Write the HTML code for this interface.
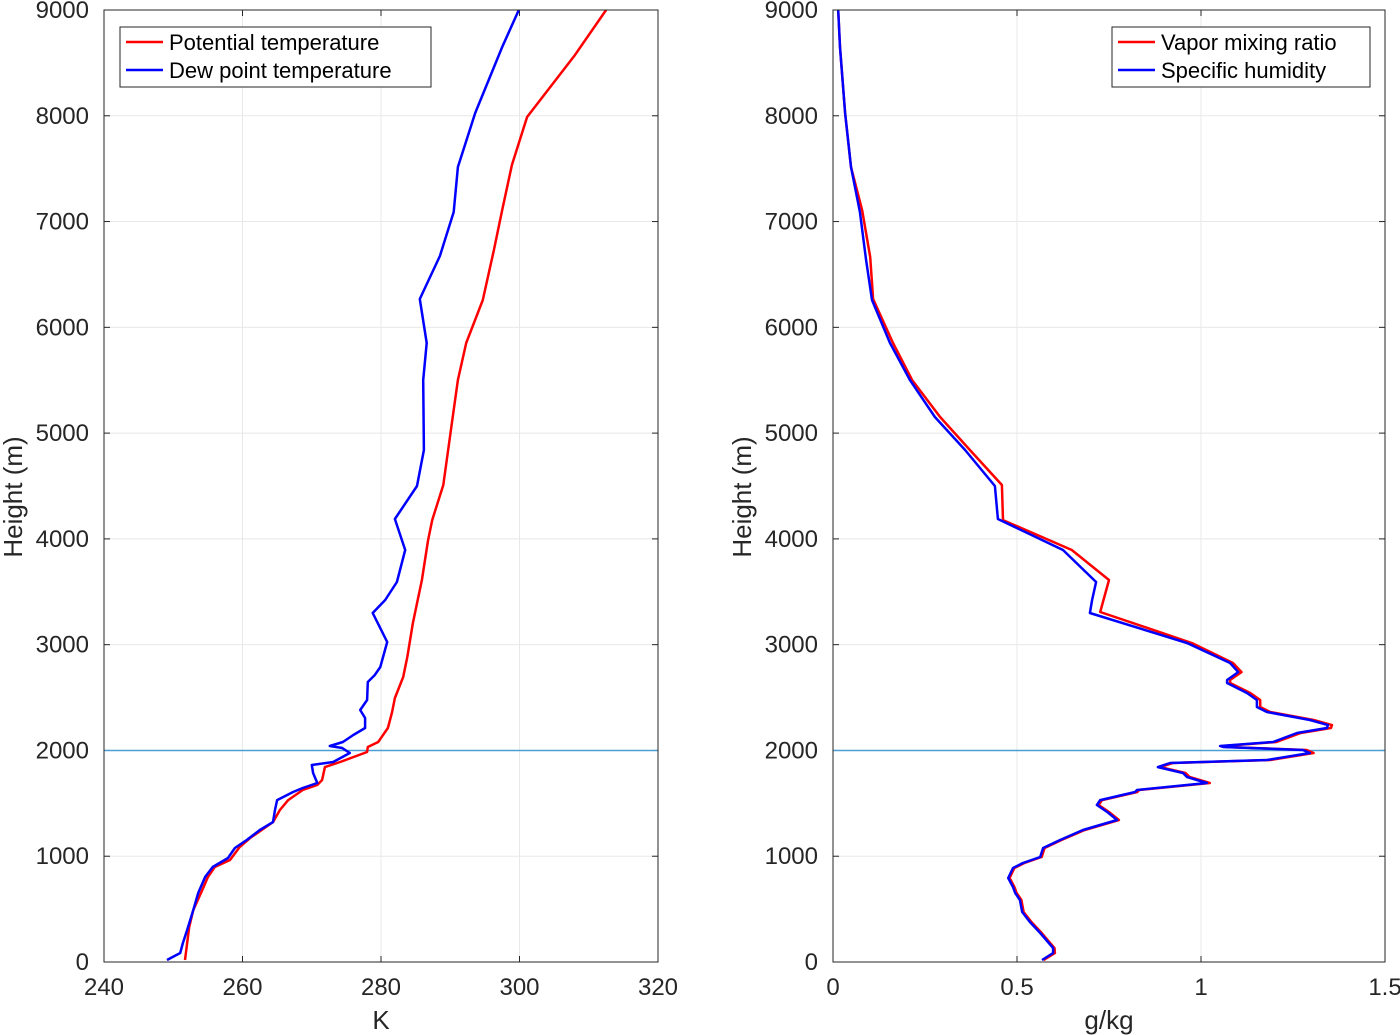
<!DOCTYPE html>
<html><head><meta charset="utf-8"><style>
body{margin:0;background:#fff;}
svg{display:block;font-family:"Liberation Sans",sans-serif;}
</style></head><body>
<svg id="chart" width="1400" height="1035" viewBox="0 0 1400 1035"></svg>
<script>
// Left panel data: [height m, value K]
const ptHeights=[19,331,492,681,804,898,964,1087,1172,1323,1437,1531,1626,1673,1721,1843,1891,1985,2033,2080,2212,2363,2496,2694,2883,3205,3422,3611,3989,4178,4509,5124,5502,5852,6258,6731,7109,7535,7988,8574,9000];
const ptValues=[251.7,252.3,252.9,254.2,255.0,256.0,258.2,259.6,261.1,264.4,265.4,266.6,268.7,270.8,271.5,271.9,274.1,278.0,278.1,279.6,281.0,281.6,282.0,283.2,283.8,284.6,285.3,285.9,286.8,287.4,289.0,290.3,291.1,292.3,294.7,296.3,297.5,298.9,301.1,308.0,312.5];
const dpHeights=[19,85,180,302,492,652,804,898,983,1078,1153,1248,1323,1437,1531,1607,1645,1692,1787,1862,1891,1976,2023,2042,2080,2146,2212,2307,2382,2477,2647,2713,2789,3025,3299,3422,3592,3895,4188,4500,4840,5502,5852,6268,6674,7090,7516,8026,8650,9000];
const dpValues=[249.1,251.0,251.4,252.0,252.9,253.6,254.6,255.7,257.9,258.9,260.6,262.5,264.4,264.7,265.0,267.3,268.7,270.8,270.2,270.0,273.1,275.5,274.4,272.6,274.5,276.0,277.7,277.7,277.0,278.0,278.1,279.1,279.9,280.9,278.8,280.6,282.3,283.5,282.0,285.2,286.2,286.1,286.6,285.6,288.5,290.5,291.1,293.6,297.5,299.9];
// Right panel data: [height m, value g/kg]
const shHeights=[19,85,132,274,378,473,586,652,709,794,889,936,993,1078,1153,1248,1342,1418,1484,1531,1607,1626,1692,1749,1787,1843,1881,1910,1976,2004,2033,2042,2080,2165,2212,2240,2288,2363,2411,2477,2543,2638,2666,2741,2827,3016,3299,3422,3592,3895,4188,4500,4840,5152,5502,5852,6258,6636,7090,7516,8026,8650,9000];
const shValues=[0.568,0.598,0.598,0.563,0.535,0.514,0.508,0.495,0.489,0.476,0.489,0.516,0.563,0.571,0.617,0.679,0.772,0.745,0.717,0.726,0.821,0.826,1.016,0.962,0.951,0.883,0.916,1.179,1.296,1.277,1.060,1.052,1.196,1.261,1.342,1.345,1.296,1.179,1.152,1.152,1.125,1.071,1.071,1.101,1.079,0.962,0.698,0.704,0.715,0.625,0.448,0.440,0.359,0.277,0.209,0.155,0.106,0.090,0.073,0.049,0.033,0.019,0.014];
const mrHeights=[19,85,132,274,378,473,586,652,709,794,889,936,993,1078,1153,1248,1342,1418,1484,1531,1607,1626,1692,1749,1787,1843,1881,1910,1976,2004,2033,2042,2080,2165,2212,2240,2288,2363,2411,2477,2543,2638,2666,2741,2827,3016,3309,3611,3895,4178,4509,4840,5152,5502,5852,6268,6665,7109,7516,8026,8650,9000];
const mrValues=[0.572,0.603,0.602,0.567,0.539,0.518,0.512,0.499,0.493,0.480,0.493,0.520,0.567,0.575,0.621,0.684,0.777,0.750,0.722,0.731,0.827,0.832,1.024,0.969,0.958,0.889,0.923,1.188,1.306,1.287,1.068,1.060,1.205,1.271,1.353,1.356,1.306,1.188,1.161,1.161,1.134,1.079,1.079,1.110,1.087,0.975,0.726,0.750,0.649,0.462,0.459,0.372,0.291,0.215,0.163,0.109,0.101,0.079,0.049,0.033,0.019,0.014];
const yTicks=[0,1000,2000,3000,4000,5000,6000,7000,8000,9000];
const xTicksL=[240,260,280,300,320];
const xTicksR=[0,0.5,1,1.5];
const xTickLabelsR=['0','0.5','1','1.5'];
const refHeight=[2000];

const NS='http://www.w3.org/2000/svg';
const svg=document.getElementById('chart');
function mk(tag,attrs,parent){const e=document.createElementNS(NS,tag);for(const k in attrs)e.setAttribute(k,attrs[k]);(parent||svg).appendChild(e);return e;}
const Y0=962,Y1=10;
function yScale(h){return Y0+(Y1-Y0)*h/9000;}

function panel(name,x0,x1,xmin,xmax,xt,xtl,xlabel,series,legend,legX,legW){
  const g=mk('g',{});
  
  
  const xs=v=>x0+(x1-x0)*(v-xmin)/(xmax-xmin);
  mk('rect',{x:x0,y:Y1,width:x1-x0,height:Y0-Y1,fill:'#fff'},g);
  yTicks.forEach(t=>{const y=yScale(t);
    const l=mk('line',{x1:x0,x2:x1,y1:y,y2:y,stroke:'#e8e8e8','stroke-width':1},g);
    
    
    mk('line',{x1:x0,x2:x0+6,y1:y,y2:y,stroke:'#262626','stroke-width':1},g);
    mk('line',{x1:x1,x2:x1-6,y1:y,y2:y,stroke:'#262626','stroke-width':1},g);
    const tx=mk('text',{x:x0-15,y:y+8,'text-anchor':'end','font-size':24,fill:'#262626'},g);
    tx.textContent=t;
    
    
  });
  xt.forEach((t,i)=>{const x=xs(t);
    const l=mk('line',{x1:x,x2:x,y1:Y1,y2:Y0,stroke:'#e8e8e8','stroke-width':1},g);
    
    
    mk('line',{x1:x,x2:x,y1:Y0,y2:Y0-6,stroke:'#262626','stroke-width':1},g);
    mk('line',{x1:x,x2:x,y1:Y1,y2:Y1+6,stroke:'#262626','stroke-width':1},g);
    const tx=mk('text',{x:x,y:995,'text-anchor':'middle','font-size':24,fill:'#262626'},g);
    tx.textContent=xtl[i];
    
    
  });
  refHeight.forEach(h=>{const rl=mk('line',{x1:x0,x2:x1,y1:yScale(h),y2:yScale(h),stroke:'#4a9ed6','stroke-width':1.5},g);
    
    });
  series.forEach(s=>{
    const d=s.h.map((h,i)=>(i?'L':'M')+xs(s.v[i]).toFixed(1)+','+yScale(h).toFixed(1)).join('');
    const p=mk('path',{d:d,fill:'none',stroke:s.c,'stroke-width':2.5,'stroke-linejoin':'round'},g);
    
    
  });
  mk('rect',{x:x0,y:Y1,width:x1-x0,height:Y0-Y1,fill:'none',stroke:'#262626','stroke-width':1},g);
  const xl=mk('text',{x:(x0+x1)/2,y:1029,'text-anchor':'middle','font-size':26,fill:'#262626'},g);
  xl.textContent=xlabel;
  
  
  const yl=mk('text',{x:0,y:0,'text-anchor':'middle','font-size':26,fill:'#262626',transform:`translate(${x0-82},497) rotate(-90)`},g);
  yl.textContent='Height (m)';
  
  
  const lg=mk('g',{},g);
  
  
  mk('rect',{x:legX,y:27,width:legW,height:60,fill:'#fff',stroke:'#262626','stroke-width':1},lg);
  legend.forEach((e,i)=>{const y=42+i*28;
    const le=mk('g',{},lg);
    
    
    mk('line',{x1:legX+6,x2:legX+43,y1:y,y2:y,stroke:e.c,'stroke-width':2.5},le);
    const t=mk('text',{x:legX+49,y:y+8,'font-size':22,fill:'#000'},le);
    t.textContent=e.n;
  });
}
panel('left-panel-temperature',104,658,240,320,xTicksL,xTicksL.map(String),'K',
  [{n:'potential-temperature-line',h:ptHeights,v:ptValues,c:'#ff0000'},{n:'dew-point-line',h:dpHeights,v:dpValues,c:'#0000ff'}],
  [{n:'Potential temperature',c:'#ff0000'},{n:'Dew point temperature',c:'#0000ff'}],120,311);
panel('right-panel-humidity',833,1385,0,1.5,xTicksR,xTickLabelsR,'g/kg',
  [{n:'vapor-mixing-ratio-line',h:mrHeights,v:mrValues,c:'#ff0000'},{n:'specific-humidity-line',h:shHeights,v:shValues,c:'#0000ff'}],
  [{n:'Vapor mixing ratio',c:'#ff0000'},{n:'Specific humidity',c:'#0000ff'}],1112,258);
</script>
</body></html>
